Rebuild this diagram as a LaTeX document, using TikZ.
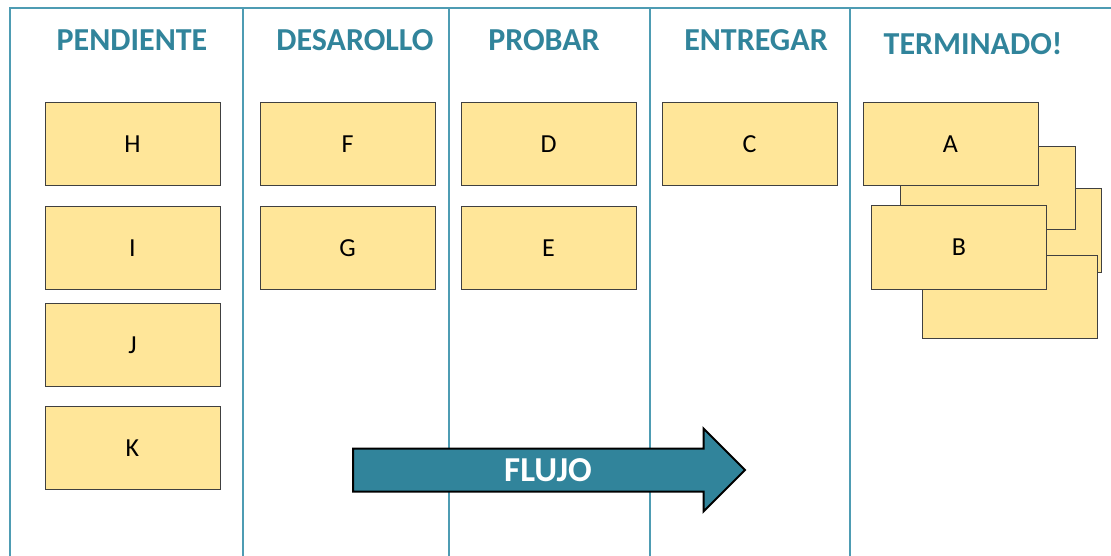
\documentclass[tikz,border=0pt]{standalone}
\usepackage{fontspec}
\setmainfont{Carlito}
\usetikzlibrary{shapes,arrows,positioning}
\definecolor{teal}{HTML}{31849B}
\definecolor{lane}{HTML}{4E9CB3}
\definecolor{postit}{HTML}{FFE699}
\definecolor{edgegray}{HTML}{404040}

\begin{document}
\begin{tikzpicture}[x=1pt,y=-1pt,% one unit is one pixel of the board
			card/.style={
				rectangle,
				draw=edgegray,
				fill=postit,
				line width=1pt,
				minimum width=175pt,	% size of one sticky note
				minimum height=83pt,
				font=\fontsize{26}{28}\selectfont
			},
			header/.style={
				anchor=base,
				text=teal,
				font=\bfseries\fontsize{32}{36}\selectfont
			},
			lanes/.style={draw=lane,line width=2pt}
		]
		\useasboundingbox (0,0) rectangle (1111,556);
		% board frame and columns
		\draw[lanes] (10,556) -- (10,8) -- (1111,8);
		\draw[lanes] (243,8) -- (243,556);
		\draw[lanes] (449,8) -- (449,556);
		\draw[lanes] (650,8) -- (650,556);
		\draw[lanes] (850,8) -- (850,556);
		% column titles
		\node[header](T1) at (132,51){PENDIENTE};
		\node[header](T2) at (355,51){DESAROLLO};
		\node[header](T3) at (544,51){PROBAR};
		\node[header](T4) at (756,51){ENTREGAR};
		\node[header](T5) at (973,55){TERMINADO!};
		% cards
		\node[card](H) at (132.5,144){H};
		\node[card](I)[below=20pt of H]{I};
		\node[card](J)[below=13pt of I]{J};
		\node[card](K)[below=19pt of J]{K};
		\node[card](F)[right=39pt of H]{F};
		\node[card](G)[below=20pt of F]{G};
		\node[card](D)[right=25pt of F]{D};
		\node[card](E)[below=20pt of D]{E};
		\node[card](C)[right=25pt of D]{C};
		% finished pile
		\node[card](P3) at (1014,230.5){};
		\node[card](P2) at (988,188.5){};
		\node[card](P4) at (1010,296.5){};
		\node[card](A)[right=25pt of C]{A};
		\node[card](B) at (959,247.5){B};
		% flow arrow
		\node[single arrow,draw=black,line width=2pt,fill=teal,anchor=tail,
			inner xsep=0pt,inner ysep=20.5pt,minimum height=392pt,
			single arrow head extend=20pt,single arrow tip angle=90](FL) at (352,470){};
		\node[text=white,font=\bfseries\fontsize{35}{38}\selectfont](FLtext) at (548,470){FLUJO};
	\end{tikzpicture}
\end{document}
